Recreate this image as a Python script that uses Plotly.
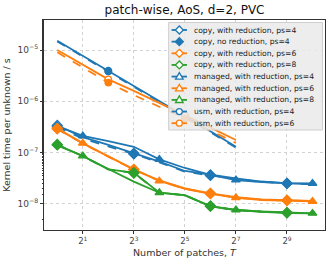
import math
import plotly.graph_objects as go

# ---------------- data ----------------
T = [1, 2, 4, 8, 16, 32, 64, 128, 256, 512, 1024]
T_usm = [1, 2, 4, 8, 16, 32, 64, 128]

copy_red_ps4 = [3.38e-7, 2.01e-7, 1.41e-7, 9.69e-8, 6.65e-8, 4.38e-8, 3.66e-8, 3.13e-8, 2.73e-8, 2.52e-8, 2.44e-8]
copy_nored_ps4 = [3.15e-7, 1.88e-7, 1.32e-7, 9.39e-8, 6.42e-8, 4.24e-8, 3.58e-8, 3.06e-8, 2.67e-8, 2.50e-8, 2.41e-8]
copy_red_ps6 = [2.98e-7, 1.52e-7, 8.47e-8, 4.73e-8, 2.86e-8, 2.01e-8, 1.61e-8, 1.35e-8, 1.22e-8, 1.18e-8, 1.14e-8]
copy_nored_ps6 = [2.90e-7, 1.50e-7, 8.35e-8, 4.65e-8, 2.82e-8, 1.98e-8, 1.58e-8, 1.32e-8, 1.20e-8, 1.16e-8, 1.13e-8]
copy_red_ps8 = [1.41e-7, 8.59e-8, 4.73e-8, 4.06e-8, 1.65e-8, 1.49e-8, 9.09e-9, 7.60e-9, 7.11e-9, 6.74e-9, 6.56e-9]
copy_nored_ps8 = [1.44e-7, 8.50e-8, 4.70e-8, 4.00e-8, 1.64e-8, 1.48e-8, 9.00e-9, 7.55e-9, 7.05e-9, 6.70e-9, 6.52e-9]
managed_ps4 = [3.30e-7, 2.11e-7, 1.68e-7, 1.30e-7, 7.40e-8, 5.01e-8, 3.66e-8, 2.92e-8, 2.67e-8, 2.55e-8, 2.52e-8]
managed_ps6 = [2.88e-7, 1.52e-7, 8.39e-8, 4.69e-8, 2.79e-8, 1.97e-8, 1.56e-8, 1.32e-8, 1.19e-8, 1.15e-8, 1.12e-8]
managed_ps8 = [1.38e-7, 8.59e-8, 4.79e-8, 2.71e-8, 1.65e-8, 1.46e-8, 8.98e-9, 7.60e-9, 7.02e-9, 6.65e-9, 6.56e-9]
usm_red_ps4 = [1.52e-5, 7.74e-6, 3.95e-6, 2.04e-6, 1.04e-6, 5.22e-7, 2.60e-7, 1.30e-7]
usm_nored_ps4 = [1.47e-5, 7.45e-6, 3.80e-6, 1.96e-6, 1.00e-6, 5.02e-7, 2.50e-7, 1.25e-7]
usm_red_ps6 = [1.00e-5, 5.19e-6, 2.68e-6, 1.60e-6, 9.44e-7, 5.38e-7, 3.07e-7, 1.76e-7]
usm_nored_ps6 = [9.02e-6, 4.56e-6, 2.31e-6, 1.32e-6, 7.92e-7, 4.63e-7, 2.70e-7, 1.54e-7]

x_tick_vals = [2, 8, 32, 128, 512]
x_tick_text = ["2<sup>1</sup>", "2<sup>3</sup>", "2<sup>5</sup>", "2<sup>7</sup>", "2<sup>9</sup>"]
y_tick_vals = [1e-8, 1e-7, 1e-6, 1e-5]
y_tick_text = ["10<sup>\u22128</sup>", "10<sup>\u22127</sup>", "10<sup>\u22126</sup>", "10<sup>\u22125</sup>"]

title_text = "patch-wise, AoS, d=2, PVC"
x_title = "Number of patches, <i>T</i>"
y_title = "Kernel time per unknown / s"

# ---------------- styles ----------------
BLUE, ORANGE, GREEN = "#1f77b4", "#ff7f0e", "#2ca02c"
FONT = "DejaVu Sans"

# (label, x, y, color, dash, marker kind, marker offset)
series = [
    ("copy, with reduction, ps=4", T, copy_red_ps4, BLUE, "solid", "diamond_open", 0),
    ("copy, no reduction, ps=4", T, copy_nored_ps4, BLUE, "dash", "diamond", 0),
    ("copy, with reduction, ps=6", T, copy_red_ps6, ORANGE, "solid", "diamond_open", 0),
    (None, T, copy_nored_ps6, ORANGE, "dash", "diamond", 0),
    ("copy, with reduction, ps=8", T, copy_red_ps8, GREEN, "solid", "diamond_open", 0),
    (None, T, copy_nored_ps8, GREEN, "dash", "diamond", 0),
    ("managed, with reduction, ps=4", T, managed_ps4, BLUE, "solid", "triangle", 1),
    ("managed, with reduction, ps=6", T, managed_ps6, ORANGE, "solid", "triangle", 1),
    ("managed, with reduction, ps=8", T, managed_ps8, GREEN, "solid", "triangle", 1),
    ("usm, with reduction, ps=4", T_usm, usm_red_ps4, BLUE, "solid", "circle_open", 2),
    (None, T_usm, usm_nored_ps4, BLUE, "dash", "circle", 2),
    ("usm, with reduction, ps=6", T_usm, usm_red_ps6, ORANGE, "solid", "circle_open", 2),
    (None, T_usm, usm_nored_ps6, ORANGE, "dash", "circle", 2),
]

legend_order = [0, 1, 2, 4, 6, 7, 8, 9, 11]

fig = go.Figure()
for label, xs, ys, col, dash, mk, off in series:
    fig.add_trace(go.Scatter(x=xs, y=ys, mode="lines",
                             line=dict(color=col, width=1.8, dash=dash),
                             showlegend=False, hoverinfo="skip"))
for label, xs, ys, col, dash, mk, off in series:
    sym = {"diamond_open": "diamond", "diamond": "diamond", "triangle": "triangle-up",
           "circle_open": "circle", "circle": "circle"}[mk]
    fill = "white" if mk.endswith("_open") else col
    size = {"diamond_open": 7.5, "diamond": 7.5, "triangle": 7.5, "circle_open": 6.5, "circle": 6.5}[mk]
    fig.add_trace(go.Scatter(x=xs[off::3], y=ys[off::3], mode="markers",
                             marker=dict(symbol=sym, size=size, color=fill,
                                         line=dict(color=col, width=1.4)),
                             showlegend=False, hoverinfo="skip"))

# ---------------- layout geometry ----------------
W, H = 332, 264
ML, MR, MT, MB = 43, 6, 20, 34
PW, PH = W - ML - MR, H - MT - MB


def px(xp):
    return (xp - ML) / PW


def py(yp):
    return (H - MB - yp) / PH


shapes = []
annotations = []
# legend box
shapes.append(dict(type="rect", xref="paper", yref="paper",
                   x0=px(168.5), x1=px(323.5), y0=py(130), y1=py(22.5),
                   fillcolor="rgba(234,234,234,0.85)", line=dict(color="#cfcfcf", width=1),
                   layer="above"))
for k, idx in enumerate(legend_order):
    label, xs, ys, col, dash, mk, off = series[idx]
    yc = 30 + 11.65 * k
    shapes.append(dict(type="line", xref="paper", yref="paper",
                       x0=px(171.5), x1=px(187), y0=py(yc), y1=py(yc),
                       line=dict(color=col, width=1.8, dash="dash" if dash == "dash" else "solid"),
                       layer="above"))
    fill = col if mk in ("diamond",) else "white"
    if mk.startswith("circle"):
        shapes.append(dict(type="circle", xref="paper", yref="paper",
                           xsizemode="pixel", ysizemode="pixel",
                           xanchor=px(179.3), yanchor=py(yc),
                           x0=-3, x1=3, y0=-3, y1=3,
                           fillcolor=fill, line=dict(color=col, width=1.3), layer="above"))
    else:
        path = "M0,4L4,0L0,-4L-4,0Z" if mk.startswith("diamond") else "M0,4L3.8,-2.6L-3.8,-2.6Z"
        shapes.append(dict(type="path", xref="paper", yref="paper",
                           xsizemode="pixel", ysizemode="pixel",
                           xanchor=px(179.3), yanchor=py(yc), path=path,
                           fillcolor=fill, line=dict(color=col, width=1.3), layer="above"))
    annotations.append(dict(text=label, xref="paper", yref="paper",
                            x=px(192.5), y=py(yc), xanchor="left", yanchor="middle",
                            showarrow=False, font=dict(family=FONT, size=7.6, color="#222")))

# x-axis title placed below the tick labels
annotations.append(dict(text=x_title, xref="paper", yref="paper",
                        x=0.5, y=py(252), xanchor="center", yanchor="middle",
                        showarrow=False, font=dict(family=FONT, size=9.5, color="#333")))

fig.update_layout(
    width=W, height=H,
    margin=dict(l=ML, r=MR, t=MT, b=MB),
    paper_bgcolor="white", plot_bgcolor="white",
    font=dict(family=FONT, size=9, color="#333"),
    title=dict(text=title_text, x=0.5, xref="paper", xanchor="center",
               y=1 - 10 / H, yanchor="middle", font=dict(family=FONT, size=12, color="#111")),
    showlegend=False,
    hovermode=False,
    shapes=shapes,
    annotations=annotations,
    xaxis=dict(type="log", range=[math.log10(2 ** -0.52), math.log10(2 ** 10.49)],
               tickvals=x_tick_vals, ticktext=x_tick_text,
               ticks="outside", ticklen=3, tickcolor="#333",
               showgrid=True, gridcolor="#d2d2d2", griddash="dot", gridwidth=1,
               showline=True, mirror=True, linecolor="#333", linewidth=1,
               zeroline=False, tickfont=dict(size=8.5, color="#444")),
    yaxis=dict(type="log", range=[-8.509, -4.415],
               tickvals=y_tick_vals, ticktext=y_tick_text,
               ticks="outside", ticklen=3, tickcolor="#333",
               minor=dict(ticks="outside", ticklen=1.5, tickcolor="#333", showgrid=False),
               showgrid=True, gridcolor="#d2d2d2", griddash="dot", gridwidth=1,
               showline=True, mirror=True, linecolor="#333", linewidth=1,
               zeroline=False, tickfont=dict(size=9, color="#444"),
               title=dict(text=y_title, standoff=5, font=dict(size=9.5, color="#333"))),
)

fig.write_html("out.html",
               config={"displayModeBar": False, "staticPlot": True},
               post_script="document.body.style.margin='0';document.body.style.padding='0';")
